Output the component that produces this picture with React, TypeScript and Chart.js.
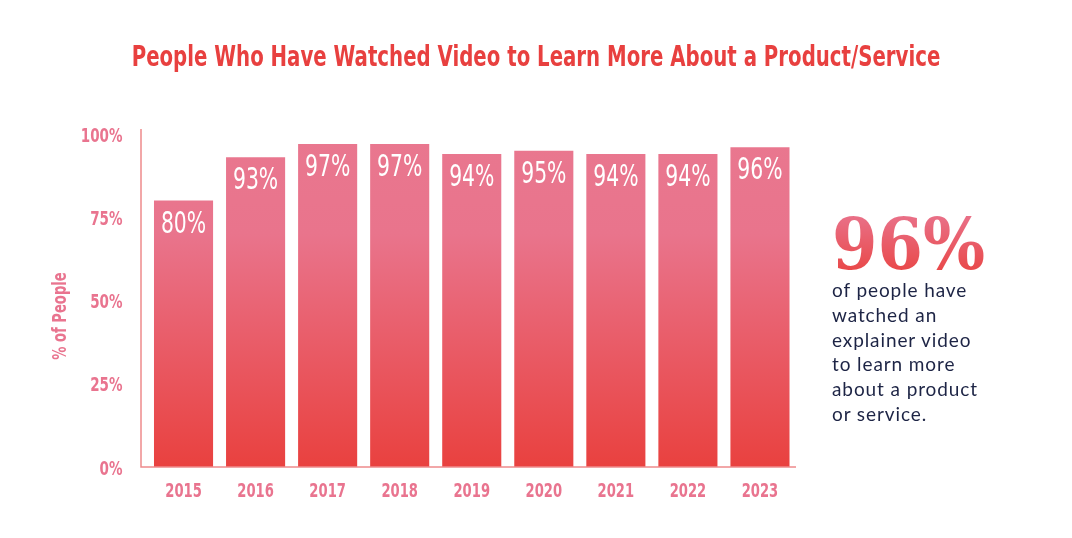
import React, { useEffect, useRef } from "react";
import { Chart, registerables } from "chart.js";

Chart.register(...registerables);

const years = ["2015", "2016", "2017", "2018", "2019", "2020", "2021", "2022", "2023"];
const percentWatched = [80, 93, 97, 97, 94, 95, 94, 94, 96];
const yTickValues = [0, 25, 50, 75, 100];

const titleText = "People Who Have Watched Video to Learn More About a Product/Service";
const yAxisTitle = "% of People";
const headlineStat = "96%";
const statLines = ["of people have", "watched an", "explainer video", "to learn more", "about a product", "or service."];

const CONDENSED = '"DejaVu Sans Condensed", "DejaVu Sans", sans-serif';
const PINK = "#e9748f";
const RED = "#e8403f";
const AXIS = "#ee8a8c";

function drawText(
  ctx: CanvasRenderingContext2D,
  text: string,
  x: number,
  y: number,
  font: string,
  color: string,
  align: CanvasTextAlign,
  sx: number,
  rotate = 0
) {
  ctx.save();
  ctx.translate(x, y);
  if (rotate) ctx.rotate(rotate);
  ctx.scale(sx, 1);
  ctx.font = font;
  ctx.fillStyle = color;
  ctx.textAlign = align;
  ctx.textBaseline = "alphabetic";
  ctx.fillText(text, 0, 0);
  ctx.restore();
}

const overlayPlugin = {
  id: "overlay",
  afterDatasetsDraw(chart: any) {
    const { ctx, chartArea, scales } = chart;
    const meta = chart.getDatasetMeta(0);
    // title
    drawText(ctx, titleText, chart.width / 2, 66, `700 29px ${CONDENSED}`, RED, "center", 0.757);
    // value labels inside bars
    meta.data.forEach((bar: any, i: number) => {
      drawText(ctx, `${percentWatched[i]}%`, bar.x, bar.y + 32, `400 31px ${CONDENSED}`, "#ffffff", "center", 0.73);
    });
    // x tick labels
    years.forEach((y, i) => {
      drawText(ctx, y, scales.x.getPixelForTick(i), 496.5, `700 20px ${CONDENSED}`, PINK, "center", 0.73);
    });
    // y tick labels
    yTickValues.forEach((v) => {
      drawText(ctx, `${v}%`, 122.5, scales.y.getPixelForValue(v) + 7.5, `700 20px ${CONDENSED}`, PINK, "right", 0.75);
    });
    // axis lines
    const axisX = chartArea.left - 6.5;
    ctx.save();
    ctx.strokeStyle = AXIS;
    ctx.lineWidth = 1.5;
    ctx.beginPath();
    ctx.moveTo(axisX, chartArea.top - 5);
    ctx.lineTo(axisX, chartArea.bottom);
    ctx.lineTo(chartArea.right, chartArea.bottom);
    ctx.stroke();
    ctx.restore();
    // y axis title
    drawText(ctx, yAxisTitle, 65.5, (chartArea.top + chartArea.bottom) / 2 + 15.5, `700 20px ${CONDENSED}`, PINK, "center", 0.73, -Math.PI / 2);
  },
};

export default function App() {
  const canvasRef = useRef<HTMLCanvasElement | null>(null);

  useEffect(() => {
    const canvas = canvasRef.current;
    if (!canvas) return;
    const chart = new Chart(canvas, {
      type: "bar",
      data: {
        labels: years,
        datasets: [
          {
            data: percentWatched,
            backgroundColor: (c: any) => {
              const area = c.chart.chartArea;
              if (!area) return RED;
              const g = c.chart.ctx.createLinearGradient(0, area.top, 0, area.bottom);
              g.addColorStop(0, "#e9778f");
              g.addColorStop(0.3, "#e9748c");
              g.addColorStop(1, "#e9413f");
              return g;
            },
            borderWidth: 0,
            barPercentage: 0.82,
            categoryPercentage: 1,
          },
        ],
      },
      options: {
        responsive: false,
        animation: false,
        layout: { padding: { left: 0, right: 276, top: 134, bottom: 0 } },
        plugins: {
          legend: { display: false },
          tooltip: { enabled: false },
          title: { display: false },
        },
        scales: {
          x: {
            grid: { display: false, drawTicks: false },
            border: { display: false },
            ticks: { display: false },
            afterFit: (s: any) => {
              s.height = 71;
            },
          },
          y: {
            min: 0,
            max: 100,
            grid: { display: false, drawTicks: false },
            border: { display: false },
            ticks: { display: false },
            afterFit: (s: any) => {
              s.width = 147.5;
            },
          },
        },
      },
      plugins: [overlayPlugin],
    });
    return () => chart.destroy();
  }, []);

  return (
    <div style={{ position: "fixed", left: 0, top: 0, width: 1072, height: 538, background: "#fff" }}>
      <canvas ref={canvasRef} width={1072} height={538} style={{ position: "absolute", left: 0, top: 0 }} />
      <div
        style={{
          position: "absolute",
          left: 832,
          top: 209,
          fontFamily: '"DejaVu Serif", serif',
          fontWeight: 700,
          fontSize: 71,
          lineHeight: "71px",
          transform: "scaleX(0.92)",
          transformOrigin: "left top",
          background: "linear-gradient(#e9758f, #e9423f)",
          WebkitBackgroundClip: "text",
          backgroundClip: "text",
          color: "transparent",
          whiteSpace: "nowrap",
        }}
      >
        {headlineStat}
      </div>
      <div
        style={{
          position: "absolute",
          left: 832,
          top: 278,
          fontFamily: 'Lato, "Noto Sans", sans-serif',
          fontSize: 19,
          letterSpacing: "0.9px",
          lineHeight: "24.8px",
          color: "#1d2445",
          whiteSpace: "nowrap",
        }}
      >
        {statLines.map((l) => (
          <div key={l}>{l}</div>
        ))}
      </div>
    </div>
  );
}
